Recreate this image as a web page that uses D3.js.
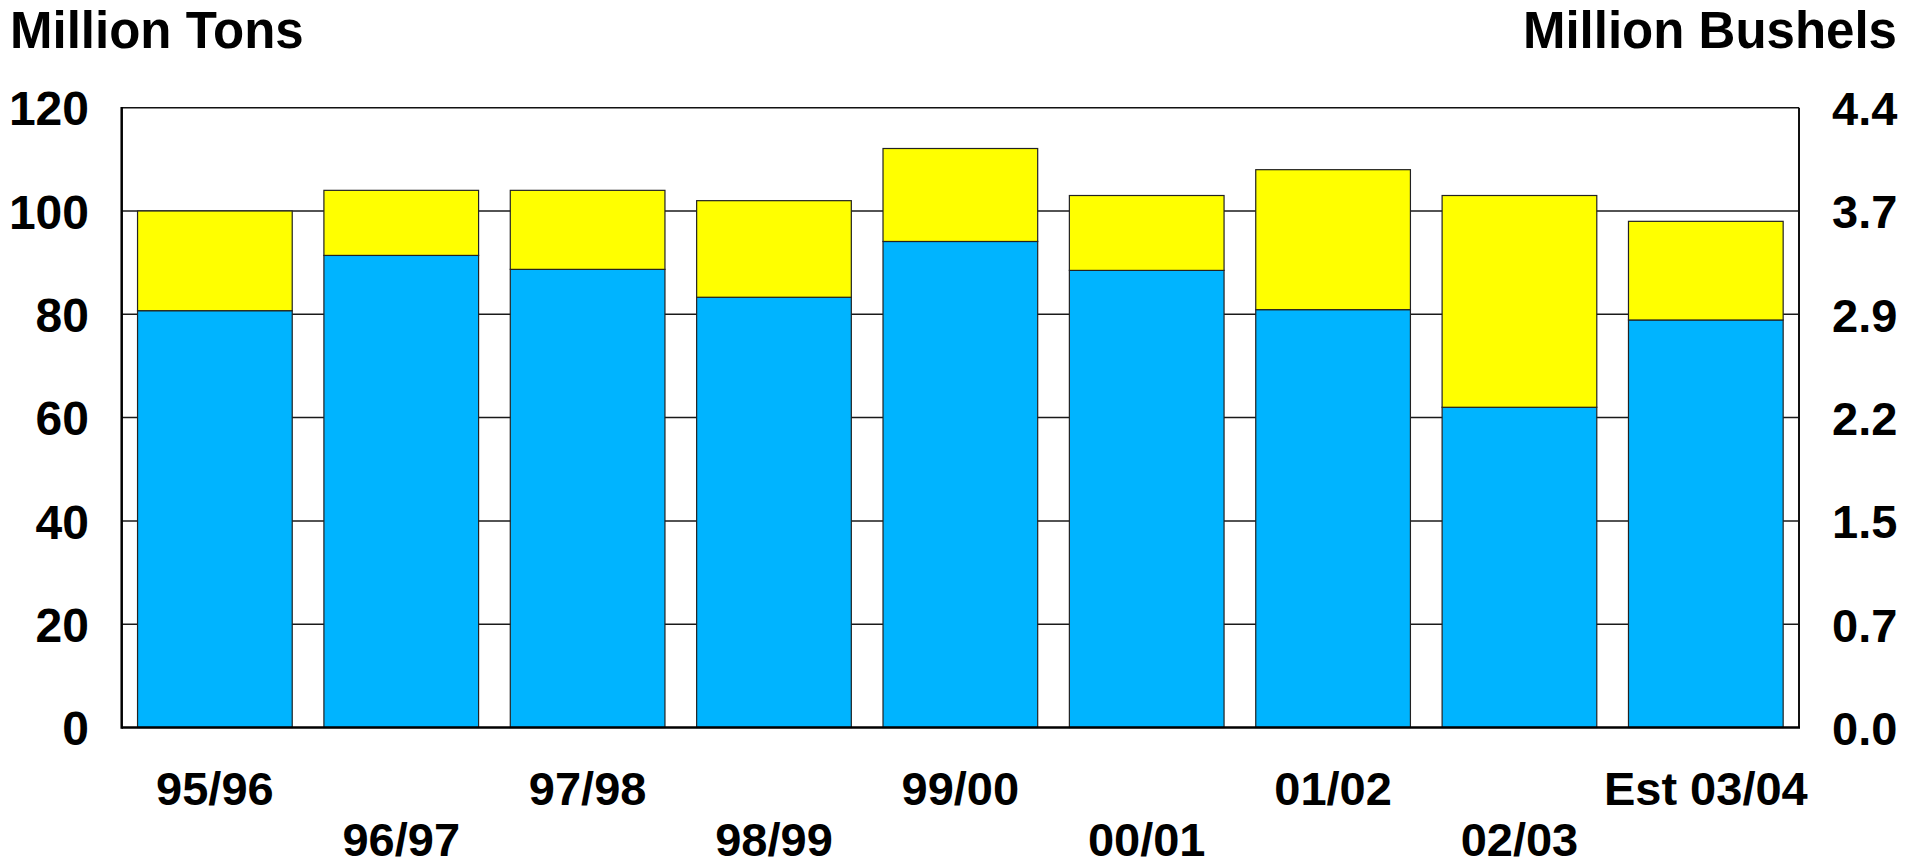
<!DOCTYPE html>
<html>
<head>
<meta charset="utf-8">
<script src="https://cdn.jsdelivr.net/npm/d3@7"></script>
<style>
  html, body { margin: 0; padding: 0; background: #fff; }
  svg { display: block; }
  text { font-family: "Liberation Sans", Arial, sans-serif; font-weight: bold; fill: #000; }
</style>
</head>
<body>
<svg id="chart" width="1921" height="866"></svg>
<script>
// ---- data ----
const categories = ["95/96", "96/97", "97/98", "98/99", "99/00", "00/01", "01/02", "02/03", "Est 03/04"];
const blueValues = [80.7, 91.4, 88.7, 83.3, 94.1, 88.5, 80.9, 62.0, 78.9];
const yellowValues = [19.3, 12.6, 15.3, 18.7, 18.0, 14.5, 27.1, 41.0, 19.1];
const leftTicks = [0, 20, 40, 60, 80, 100, 120];
const rightTicks = [0, 0.7333, 1.4667, 2.2, 2.9333, 3.6667, 4.4];
const leftTitle = "Million Tons";
const rightTitle = "Million Bushels";

// ---- layout ----
const plot = { left: 121.7, right: 1799, top: 107.7, bottom: 727.5 };
const svg = d3.select("#chart");

const x = d3.scaleBand().domain(categories).range([plot.left, plot.right])
  .paddingInner(0.17).paddingOuter(0.085);
const y = d3.scaleLinear().domain([0, 120]).range([plot.bottom, plot.top]);
const yR = d3.scaleLinear().domain([0, 4.4]).range([plot.bottom, plot.top]);

// gridlines
svg.append("g").selectAll("line").data(leftTicks.filter(d => d > 0 && d < 120)).join("line")
  .attr("x1", plot.left).attr("x2", plot.right)
  .attr("y1", d => y(d)).attr("y2", d => y(d))
  .attr("stroke", "#1a1a1a").attr("stroke-width", 1.5);

// stacked bars
const rows = categories.map((c, i) => ({ cat: c, blue: blueValues[i], yellow: yellowValues[i] }));
const stack = d3.stack().keys(["blue", "yellow"])(rows);
const colors = { blue: "#00B4FF", yellow: "#FFFF00" };

svg.append("g").selectAll("g").data(stack).join("g")
  .attr("fill", s => colors[s.key])
  .selectAll("rect").data(s => s).join("rect")
  .attr("x", d => x(d.data.cat))
  .attr("width", x.bandwidth())
  .attr("y", d => y(d[1]))
  .attr("height", d => y(d[0]) - y(d[1]))
  .attr("stroke", "#222").attr("stroke-width", 1.2);

// frame
svg.append("line").attr("x1", plot.left).attr("x2", plot.right).attr("y1", plot.top).attr("y2", plot.top)
  .attr("stroke", "#111").attr("stroke-width", 1.5);
svg.append("line").attr("x1", plot.right).attr("x2", plot.right).attr("y1", plot.top).attr("y2", plot.bottom)
  .attr("stroke", "#111").attr("stroke-width", 2);
svg.append("line").attr("x1", plot.left).attr("x2", plot.left).attr("y1", plot.top - 0.75).attr("y2", plot.bottom + 1.25)
  .attr("stroke", "#000").attr("stroke-width", 2.5);
svg.append("line").attr("x1", plot.left).attr("x2", plot.right + 1).attr("y1", plot.bottom).attr("y2", plot.bottom)
  .attr("stroke", "#000").attr("stroke-width", 2.5);

// left axis labels
const leftAxis = d3.axisLeft(y).tickValues(leftTicks).tickSize(0).tickPadding(0).tickFormat(d3.format("d"));
const gL = svg.append("g").attr("transform", "translate(89,0)").call(leftAxis);
gL.select(".domain").remove();
gL.selectAll("text").attr("font-size", 48).attr("dy", "0.36em")
  .style("font-family", '"Liberation Sans", Arial, sans-serif').style("font-weight", "bold");

// right axis labels
const rightAxis = d3.axisRight(yR).tickValues(rightTicks).tickSize(0).tickPadding(0).tickFormat(d3.format(".1f"));
const gR = svg.append("g").attr("transform", "translate(1832,0)").call(rightAxis);
gR.select(".domain").remove();
gR.selectAll("text").attr("font-size", 47).attr("dy", "0.36em")
  .style("font-family", '"Liberation Sans", Arial, sans-serif').style("font-weight", "bold");

// x labels, staggered in two rows
svg.append("g").selectAll("text").data(categories).join("text")
  .attr("x", d => x(d) + x.bandwidth() / 2)
  .attr("y", (d, i) => i % 2 === 0 ? 805 : 856)
  .attr("text-anchor", "middle")
  .attr("font-size", 47)
  .text(d => d);

// titles
svg.append("text").attr("x", 10).attr("y", 48).attr("font-size", 51).text(leftTitle);
svg.append("text").attr("x", 1897).attr("y", 48).attr("font-size", 51).attr("text-anchor", "end").text(rightTitle);
</script>
</body>
</html>
